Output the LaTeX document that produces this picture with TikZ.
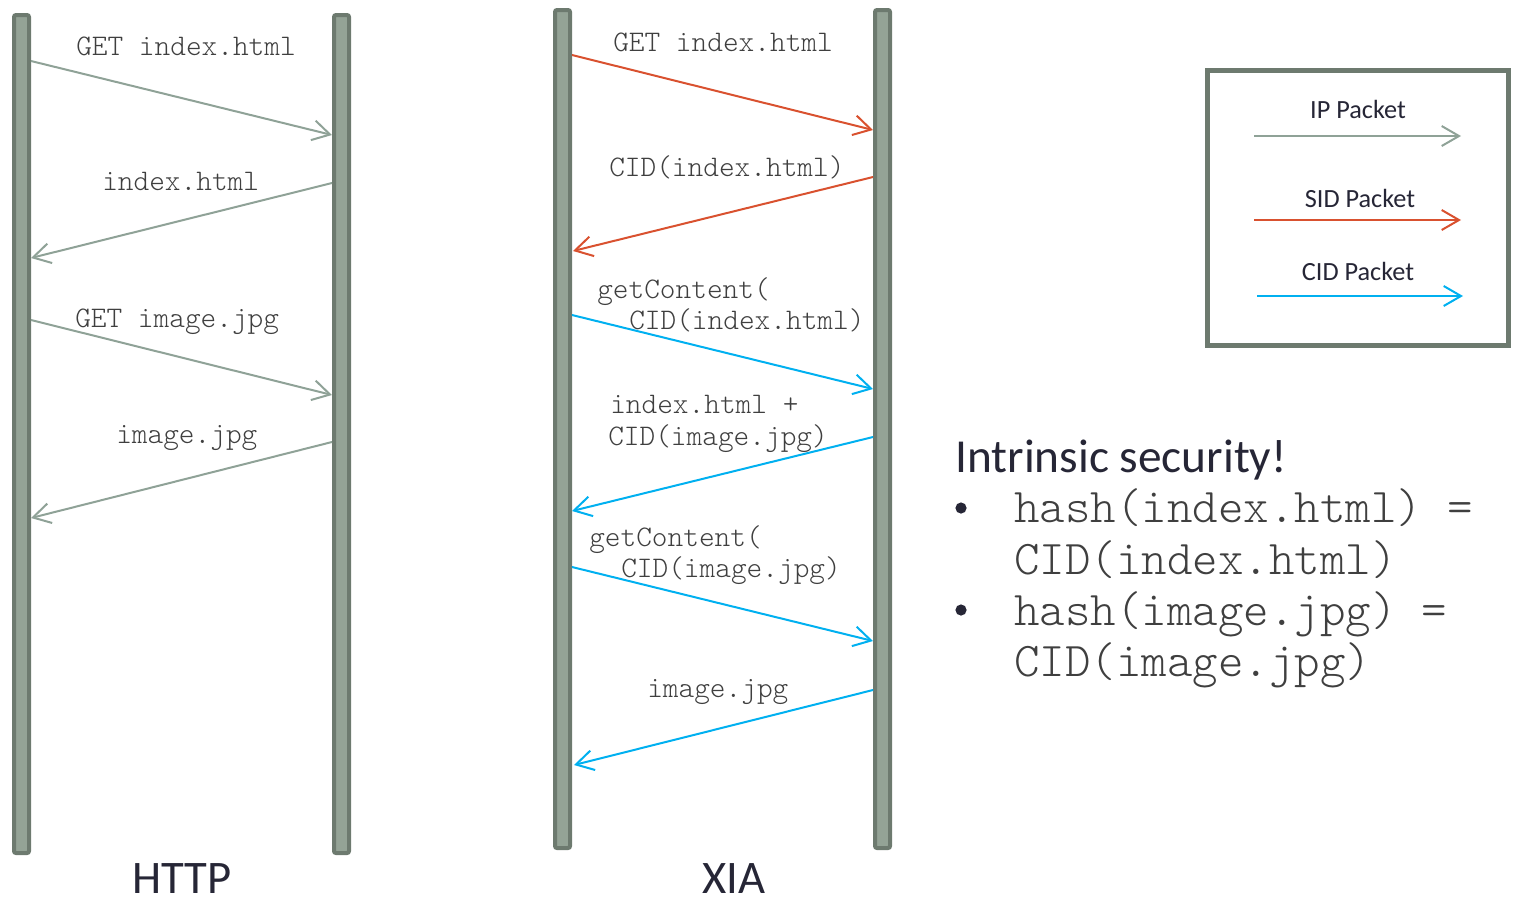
\documentclass[tikz,border=0pt]{standalone}
\usepackage{fontspec}
\setmainfont{Carlito}
\setmonofont{Latin Modern Mono Light}
\usetikzlibrary{arrows.meta}
\definecolor{barfill}{HTML}{94A396}
\definecolor{barline}{HTML}{6D7A6F}
\definecolor{ipc}{HTML}{8FA297}
\definecolor{sidc}{HTML}{D9512F}
\definecolor{cidc}{HTML}{00B0F0}
\definecolor{monotext}{HTML}{3F3F3F}
\definecolor{sanstext}{HTML}{262636}
\begin{document}
\begin{tikzpicture}[x=0.75pt, y=-0.75pt,
  bar/.style={draw=barline, fill=barfill, line width=3pt, rounded corners=1.5pt},
  msg/.style={line width=1.5pt, -{Straight Barb[length=13pt,width=15pt]}},
  ip/.style={msg, draw=ipc},
  sid/.style={msg, draw=sidc},
  cid/.style={msg, draw=cidc},
  lbl/.style={anchor=base west, inner sep=0pt, text=monotext,
    font=\fontsize{22.4}{24}\selectfont\ttfamily},
  biglbl/.style={anchor=base west, inner sep=0pt, text=monotext,
    font=\fontsize{36.4}{40}\selectfont\ttfamily},
  legendlbl/.style={anchor=base, inner sep=0pt, text=sanstext,
    font=\fontsize{19.7}{22}\selectfont},
  title/.style={anchor=base, inner sep=0pt, text=sanstext,
    font=\fontsize{35}{40}\selectfont}]
\useasboundingbox (0,0) rectangle (1515,901);

% lifelines
\draw[bar] (14,15) rectangle (29,853);
\draw[bar] (334,15) rectangle (349,853);
\draw[bar] (555,10) rectangle (570,848);
\draw[bar] (875,10) rectangle (890,848);

% HTTP exchange
\coordinate (h1a) at (31,61);   \coordinate (h1b) at (332,135);
\coordinate (h2a) at (332,183); \coordinate (h2b) at (31,258);
\coordinate (h3a) at (31,320);  \coordinate (h3b) at (332,395);
\coordinate (h4a) at (332,442); \coordinate (h4b) at (31,518);
\draw[ip] (h1a) -- (h1b);
\draw[ip] (h2a) -- (h2b);
\draw[ip] (h3a) -- (h3b);
\draw[ip] (h4a) -- (h4b);
\node[lbl] (hl1) at (76,55) {GET index.html};
\node[lbl] (hl2) at (102,190) {index.html};
\node[lbl] (hl3) at (75,327) {GET image.jpg};
\node[lbl] (hl4) at (116,443) {image.jpg};

% XIA exchange
\coordinate (x1a) at (572,55);  \coordinate (x1b) at (873,130);
\coordinate (x2a) at (873,177); \coordinate (x2b) at (573,251);
\coordinate (x3a) at (572,315); \coordinate (x3b) at (873,389);
\coordinate (x4a) at (873,437); \coordinate (x4b) at (572,511);
\coordinate (x5a) at (572,567); \coordinate (x5b) at (873,641);
\coordinate (x6a) at (873,690); \coordinate (x6b) at (574,765);
\draw[sid] (x1a) -- (x1b);
\draw[sid] (x2a) -- (x2b);
\draw[cid] (x3a) -- (x3b);
\draw[cid] (x4a) -- (x4b);
\draw[cid] (x5a) -- (x5b);
\draw[cid] (x6a) -- (x6b);
\node[lbl] (xl1) at (613,51) {GET index.html};
\node[lbl] (xl2) at (609,176) {CID(index.html)};
\node[lbl] (xl3a) at (597,298) {getContent(};
\node[lbl] (xl3b) at (629,329) {CID(index.html)};
\node[lbl] (xl4a) at (610,413) {index.html +};
\node[lbl] (xl4b) at (608,445) {CID(image.jpg)};
\node[lbl] (xl5a) at (589,546) {getContent(};
\node[lbl] (xl5b) at (621,577) {CID(image.jpg)};
\node[lbl] (xl6) at (647,697) {image.jpg};

% column titles
\node[title] (thttp) at (182,893) {HTTP};
\node[title] (txia) at (734,893) {XIA};

% legend
\draw[draw=barline, line width=3.75pt] (1207.5,70.5) rectangle (1508.5,345.5);
\node[legendlbl] (lip) at (1358,118) {IP Packet};
\node[legendlbl] (lsid) at (1360,207) {SID Packet};
\node[legendlbl] (lcid) at (1358,280) {CID Packet};
\coordinate (lipa) at (1254,136); \coordinate (lipb) at (1461,136);
\coordinate (lsida) at (1254,220); \coordinate (lsidb) at (1461,220);
\coordinate (lcida) at (1257,296); \coordinate (lcidb) at (1463,296);
\draw[ip] (lipa) -- (lipb);
\draw[sid] (lsida) -- (lsidb);
\draw[cid] (lcida) -- (lcidb);

% security note
\node[anchor=base west, inner sep=0pt, text=sanstext,
  font=\fontsize{35.5}{40}\selectfont] (sec) at (955,472) {Intrinsic security!};
\fill[sanstext] (961,508) circle (4.2pt);
\fill[sanstext] (961,610) circle (4.2pt);
\node[biglbl] (s1) at (1014,522) {hash(index.html) =};
\node[biglbl] (s2) at (1014,574) {CID(index.html)};
\node[biglbl] (s3) at (1014,625) {hash(image.jpg) =};
\node[biglbl] (s4) at (1014,676) {CID(image.jpg)};
\end{tikzpicture}
\end{document}
